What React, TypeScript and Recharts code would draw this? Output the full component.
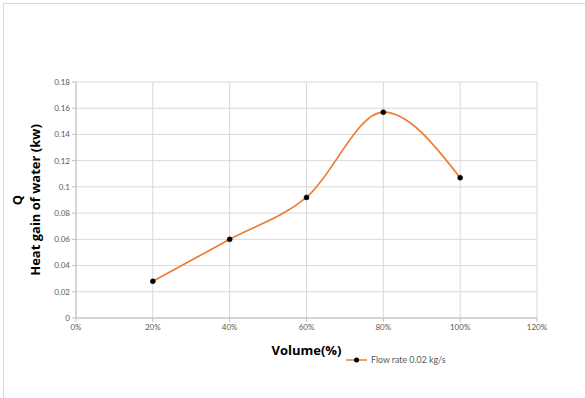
import { LineChart, Line, XAxis, YAxis, CartesianGrid, Label } from "recharts";

const volumes = [0.2, 0.4, 0.6, 0.8, 1.0];
const heatGain = [0.028, 0.06, 0.092, 0.157, 0.107];
const xTicks = [0, 0.2, 0.4, 0.6, 0.8, 1.0, 1.2];
const yTicks = [0, 0.02, 0.04, 0.06, 0.08, 0.1, 0.12, 0.14, 0.16, 0.18];
const seriesName = "Flow rate 0.02 kg/s";

const data = volumes.map((v, i) => ({ volume: v, q: heatGain[i] }));

const tickFont = { fontFamily: "Lato, 'Open Sans', sans-serif", fontSize: 8, fill: "#595959" };
const titleFont = "'Open Sans', Lato, sans-serif";

const YTitle = (props: any) => {
  const vb = props.viewBox || {};
  const cy = vb.y + vb.height / 2;
  return (
    <g>
      <text
        transform={`translate(22, ${cy}) rotate(-90)`}
        textAnchor="middle"
        fontFamily={titleFont}
        fontWeight="bold"
        fontSize={13}
        fill="#000"
      >
        Q
      </text>
      <text
        transform={`translate(40, ${cy}) rotate(-90)`}
        textAnchor="middle"
        fontFamily={titleFont}
        fontWeight="bold"
        fontSize={13}
        fill="#000"
      >
        Heat gain of water (kw)
      </text>
    </g>
  );
};

// legend drawn beside the axis title, below the plot
const LegendItem = () => (
  <svg width={150} height={14} style={{ position: "absolute", left: 344, top: 353 }}>
    <line x1={2} y1={7} x2={23} y2={7} stroke="#ED7D31" strokeWidth={1.5} />
    <circle cx={12.5} cy={7} r={2.5} fill="#000" />
    <text x={27} y={10} fontFamily="Lato, 'Open Sans', sans-serif" fontSize={8.8} fill="#595959">
      {seriesName}
    </text>
  </svg>
);

const App = () => {
  return (
    <div style={{ position: "absolute", left: 0, top: 0, width: 585, height: 398, overflow: "hidden", background: "#fff" }}>
      <div
        style={{
          position: "absolute",
          left: 3,
          top: 3,
          width: 620,
          height: 420,
          borderLeft: "1px solid #d9d9d9",
          borderTop: "1px solid #d9d9d9",
        }}
      />
      <div style={{ position: "absolute", left: 0, top: 0 }}>
        <LineChart width={585} height={398} data={data} margin={{ top: 82, right: 48, bottom: 60, left: 46 }}>
          <CartesianGrid stroke="#d9d9d9" strokeWidth={1} />
          <XAxis
            dataKey="volume"
            type="number"
            domain={[0, 1.2]}
            ticks={xTicks}
            tickFormatter={(v: number) => `${Math.round(v * 100)}%`}
            tick={tickFont}
            stroke="#bfbfbf"
            tickSize={4}
            height={20}
            interval={0}
          >
            <Label
              value="Volume(%)"
              position="bottom"
              offset={8}
              style={{ fontFamily: titleFont, fontWeight: "bold", fontSize: 13, fill: "#000" }}
            />
          </XAxis>
          <YAxis
            type="number"
            domain={[0, 0.18]}
            ticks={yTicks}
            tickFormatter={(v: number) => String(Number(v.toFixed(2)))}
            tick={tickFont}
            stroke="#bfbfbf"
            tickSize={4}
            width={30}
            interval={0}
          >
            <Label content={YTitle} />
          </YAxis>
          <Line
            type="monotone"
            dataKey="q"
            name={seriesName}
            stroke="#ED7D31"
            strokeWidth={1.75}
            dot={{ r: 2.5, fill: "#000", stroke: "#000", strokeWidth: 0.5 }}
            isAnimationActive={false}
          />
        </LineChart>
      </div>
      <LegendItem />
    </div>
  );
};

export default App;
